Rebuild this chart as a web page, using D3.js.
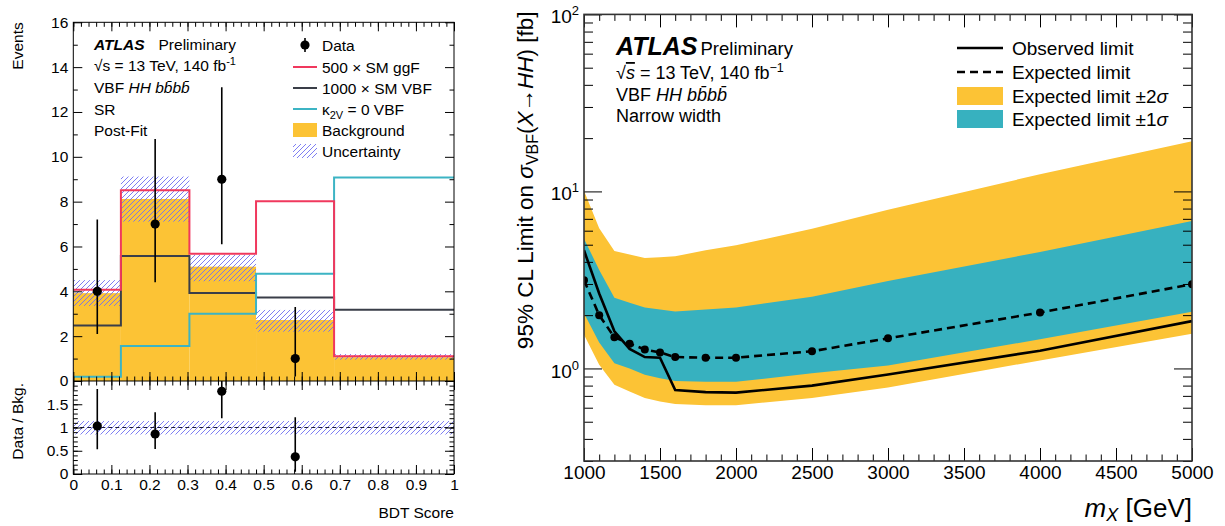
<!DOCTYPE html>
<html>
<head>
<meta charset="utf-8">
<script src="https://cdn.jsdelivr.net/npm/d3@7"></script>
<style>
  body { margin: 0; background: #fff; }
  svg { display: block; font-family: "Liberation Sans", Arial, Helvetica, sans-serif; }
</style>
</head>
<body>
<div id="chart"></div>
<script>
// ---------- left panel: BDT score distribution ----------
var binEdges = [0, 0.125, 0.305, 0.48, 0.685, 1];
var bkg = [3.92, 8.12, 5.1, 2.72, 1.06];
var bkgUncLo = [3.35, 7.11, 4.45, 2.2, 0.95];
var bkgUncHi = [4.5, 9.12, 5.62, 3.17, 1.2];
var ggF500 = [4.07, 8.51, 5.68, 8.02, 1.1];
var vbf1000 = [2.48, 5.58, 3.93, 3.72, 3.18];
var k2v0 = [0.19, 1.56, 3.0, 4.78, 9.08];
var dataX = [0.063, 0.215, 0.39, 0.583];
var dataY = [4, 7, 9, 1];
var dataLo = [2.1, 4.4, 6.1, 0.2];
var dataHi = [7.2, 10.8, 13.1, 3.3];
var ratioY = [1.03, 0.86, 1.78, 0.37];
var ratioLo = [0.53, 0.54, 1.2, 0.05];
var ratioHi = [1.83, 1.33, 2.5, 1.22];
var ratioUncLo = [0.85, 0.85, 0.85, 0.85, 0.85];
var ratioUncHi = [1.14, 1.14, 1.14, 1.14, 1.14];

// ---------- right panel: limits vs m_X ----------
var masses = [1000, 1100, 1200, 1300, 1400, 1500, 1600, 1800, 2000, 2500, 3000, 4000, 5000];
var observed = [4.65, 2.65, 1.62, 1.29, 1.16, 1.15, 0.755, 0.735, 0.73, 0.8, 0.925, 1.26, 1.85];
var expected = [3.15, 2.0, 1.5, 1.38, 1.28, 1.23, 1.16, 1.15, 1.15, 1.25, 1.48, 2.07, 2.99];
var band1Lo = [2.05, 1.4, 1.07, 1.0, 0.92, 0.88, 0.85, 0.84, 0.84, 0.94, 1.04, 1.46, 2.09];
var band1Hi = [5.41, 3.6, 2.51, 2.35, 2.21, 2.15, 2.1, 2.15, 2.21, 2.54, 3.12, 4.55, 6.8];
var band2Lo = [1.55, 1.05, 0.81, 0.74, 0.68, 0.65, 0.63, 0.62, 0.62, 0.68, 0.78, 1.11, 1.57];
var band2Hi = [10.1, 6.2, 4.61, 4.4, 4.21, 4.25, 4.3, 4.65, 4.96, 6.15, 7.88, 12.5, 19.2];

var yellow = "#fcc335", cyan = "#37b1bf";

var svg = d3.select("#chart").append("svg").attr("width", 1225).attr("height", 526);

var defs = svg.append("defs");
defs.append("pattern").attr("id", "hatch")
  .attr("patternUnits", "userSpaceOnUse").attr("width", 5).attr("height", 5)
  .append("path").attr("d", "M-1,1 L1,-1 M0,5 L5,0 M4,6 L6,4")
  .attr("stroke", "#6f6ff2").attr("stroke-width", 0.9);

// draw ticks with d3 axes, pointing inwards, no domain line
function ticks(g, axis) {
  g.call(axis).call(function (s) { s.select(".domain").remove(); });
  g.attr("font-size", null).attr("font-family", null);
  g.selectAll(".tick line").attr("stroke", "#000");
  g.selectAll(".tick text").attr("fill", "#000");
  return g;
}
function range(a, b, step) {
  var out = [];
  for (var v = a; v <= b + 1e-9; v += step) out.push(+v.toFixed(4));
  return out;
}

// ================= LEFT PANEL =================
var L = { x0: 73.3, x1: 454, top: 22.3, mid: 381, bot: 474 };
var x = d3.scaleLinear().domain([0, 1]).range([L.x0, L.x1]);
var y = d3.scaleLinear().domain([0, 16]).range([L.mid, L.top]);
var yr = d3.scaleLinear().domain([0, 2]).range([L.bot, L.mid]);

defs.append("clipPath").attr("id", "clipMain").append("rect")
  .attr("x", L.x0).attr("y", L.top).attr("width", L.x1 - L.x0).attr("height", L.mid - L.top);
defs.append("clipPath").attr("id", "clipRatio").append("rect")
  .attr("x", L.x0).attr("y", L.mid).attr("width", L.x1 - L.x0).attr("height", L.bot - L.mid);

var bins = bkg.map(function (b, i) { return { i: i, lo: binEdges[i], hi: binEdges[i + 1] }; });

var main = svg.append("g").attr("clip-path", "url(#clipMain)");

// background stack
main.selectAll("rect.bkg").data(bins).enter().append("rect")
  .attr("x", function (d) { return x(d.lo); })
  .attr("width", function (d) { return x(d.hi) - x(d.lo); })
  .attr("y", function (d) { return y(bkg[d.i]); })
  .attr("height", function (d) { return y(0) - y(bkg[d.i]); })
  .attr("fill", yellow);

// uncertainty hatch
main.selectAll("rect.unc").data(bins).enter().append("rect")
  .attr("x", function (d) { return x(d.lo); })
  .attr("width", function (d) { return x(d.hi) - x(d.lo); })
  .attr("y", function (d) { return y(bkgUncHi[d.i]); })
  .attr("height", function (d) { return y(bkgUncLo[d.i]) - y(bkgUncHi[d.i]); })
  .attr("fill", "url(#hatch)");

// signal step lines
var step = d3.line().x(function (d) { return x(d[0]); }).y(function (d) { return y(d[1]); })
  .curve(d3.curveStepAfter);
function stepPts(vals) {
  var pts = binEdges.slice(0, -1).map(function (e, i) { return [e, vals[i]]; });
  pts.push([1, vals[vals.length - 1]]);
  return pts;
}
[[vbf1000, "#3a3e48"], [k2v0, "#3cb4c4"], [ggF500, "#f0385d"]].forEach(function (s) {
  main.append("path").attr("d", step(stepPts(s[0])))
    .attr("fill", "none").attr("stroke", s[1]).attr("stroke-width", 2);
});

// data points
var pts = main.selectAll("g.data").data(dataX).enter().append("g");
pts.append("line")
  .attr("x1", function (d) { return x(d); }).attr("x2", function (d) { return x(d); })
  .attr("y1", function (d, i) { return y(dataLo[i]); })
  .attr("y2", function (d, i) { return y(dataHi[i]); })
  .attr("stroke", "#000").attr("stroke-width", 1.6);
pts.append("circle")
  .attr("cx", function (d) { return x(d); })
  .attr("cy", function (d, i) { return y(dataY[i]); })
  .attr("r", 4.6).attr("fill", "#000");

// ratio panel
var ratio = svg.append("g").attr("clip-path", "url(#clipRatio)");
ratio.selectAll("rect.runc").data(bins).enter().append("rect")
  .attr("x", function (d) { return x(d.lo); })
  .attr("width", function (d) { return x(d.hi) - x(d.lo); })
  .attr("y", function (d) { return yr(ratioUncHi[d.i]); })
  .attr("height", function (d) { return yr(ratioUncLo[d.i]) - yr(ratioUncHi[d.i]); })
  .attr("fill", "url(#hatch)");
ratio.append("line")
  .attr("x1", x(0)).attr("x2", x(1)).attr("y1", yr(1)).attr("y2", yr(1))
  .attr("stroke", "#1a1a3a").attr("stroke-width", 1.2).attr("stroke-dasharray", "4,3");
var rpts = ratio.selectAll("g.rdata").data(dataX).enter().append("g");
rpts.append("line")
  .attr("x1", function (d) { return x(d); }).attr("x2", function (d) { return x(d); })
  .attr("y1", function (d, i) { return yr(ratioLo[i]); })
  .attr("y2", function (d, i) { return yr(ratioHi[i]); })
  .attr("stroke", "#000").attr("stroke-width", 1.6);
rpts.append("circle")
  .attr("cx", function (d) { return x(d); })
  .attr("cy", function (d, i) { return yr(ratioY[i]); })
  .attr("r", 4.6).attr("fill", "#000");

// left axes
var lfs = "15.5px";
var ax = svg.append("g").attr("font-size", lfs);
ticks(ax.append("g").attr("transform", "translate(" + L.x0 + ",0)"),
  d3.axisLeft(y).tickValues(range(0, 16, 2)).tickSize(-9).tickPadding(5));
ticks(ax.append("g").attr("transform", "translate(" + L.x0 + ",0)"),
  d3.axisLeft(y).tickValues(range(1, 15, 2)).tickSize(-4.5).tickFormat(""));
ticks(ax.append("g").attr("transform", "translate(" + L.x1 + ",0)"),
  d3.axisRight(y).tickValues(range(0, 16, 2)).tickSize(-9).tickFormat(""));
ticks(ax.append("g").attr("transform", "translate(" + L.x1 + ",0)"),
  d3.axisRight(y).tickValues(range(1, 15, 2)).tickSize(-4.5).tickFormat(""));
[[L.top, d3.axisTop], [L.mid, d3.axisBottom], [L.bot, d3.axisBottom]].forEach(function (a, k) {
  ticks(ax.append("g").attr("transform", "translate(0," + a[0] + ")"),
    a[1](x).tickValues(range(0, 1, 0.1)).tickSize(-9).tickPadding(5)
      .tickFormat(k === 2 ? d3.format("") : ""));
  ticks(ax.append("g").attr("transform", "translate(0," + a[0] + ")"),
    a[1](x).tickValues(range(0, 1, 0.02)).tickSize(-4.5).tickFormat(""));
});
// ratio panel top edge ticks
ticks(ax.append("g").attr("transform", "translate(0," + L.mid + ")"),
  d3.axisTop(x).tickValues(range(0, 1, 0.1)).tickSize(-9).tickFormat(""));
ticks(ax.append("g").attr("transform", "translate(0," + L.mid + ")"),
  d3.axisTop(x).tickValues(range(0, 1, 0.02)).tickSize(-4.5).tickFormat(""));
ticks(ax.append("g").attr("transform", "translate(" + L.x0 + ",0)"),
  d3.axisLeft(yr).tickValues([0, 0.5, 1, 1.5]).tickSize(-9).tickPadding(5).tickFormat(d3.format("")));
ticks(ax.append("g").attr("transform", "translate(" + L.x0 + ",0)"),
  d3.axisLeft(yr).tickValues(range(0, 2, 0.1)).tickSize(-4.5).tickFormat(""));
ticks(ax.append("g").attr("transform", "translate(" + L.x1 + ",0)"),
  d3.axisRight(yr).tickValues([0, 0.5, 1, 1.5]).tickSize(-9).tickFormat(""));
ticks(ax.append("g").attr("transform", "translate(" + L.x1 + ",0)"),
  d3.axisRight(yr).tickValues(range(0, 2, 0.1)).tickSize(-4.5).tickFormat(""));

svg.append("rect").attr("x", L.x0).attr("y", L.top).attr("width", L.x1 - L.x0)
  .attr("height", L.bot - L.top).attr("fill", "none").attr("stroke", "#000").attr("stroke-width", 1);
svg.append("line").attr("x1", L.x0).attr("x2", L.x1).attr("y1", L.mid).attr("y2", L.mid)
  .attr("stroke", "#000");

svg.append("text").attr("transform", "translate(23," + L.top + ") rotate(-90)")
  .attr("text-anchor", "end").attr("font-size", lfs).text("Events");
svg.append("text").attr("transform", "translate(23," + (L.mid + 2) + ") rotate(-90)")
  .attr("text-anchor", "end").attr("font-size", lfs).text("Data / Bkg.");
svg.append("text").attr("x", L.x1).attr("y", 518).attr("text-anchor", "end")
  .attr("font-size", lfs).text("BDT Score");

// left labels
var lt = svg.append("g").attr("font-size", "15.5px");
var t0 = lt.append("text").attr("x", 94).attr("y", 50);
t0.append("tspan").attr("font-weight", "bold").attr("font-style", "italic").text("ATLAS");
t0.append("tspan").attr("dx", 14).text("Preliminary");
var t1 = lt.append("text").attr("x", 94).attr("y", 71);
t1.append("tspan").text("\u221As = 13 TeV, 140 fb");
t1.append("tspan").attr("font-size", "11px").attr("dy", -6).text("-1");
var t2 = lt.append("text").attr("x", 94).attr("y", 93);
t2.append("tspan").text("VBF ");
t2.append("tspan").attr("font-style", "italic").text("HH bb\u0304bb\u0304");
lt.append("text").attr("x", 94).attr("y", 115).text("SR");
lt.append("text").attr("x", 94).attr("y", 136).text("Post-Fit");

// left legend
var legY = [45, 67, 88, 109, 130, 151];
var legText = ["Data", "500 \u00d7 SM ggF", "1000 \u00d7 SM VBF", "", "Background", "Uncertainty"];
legText.forEach(function (s, i) {
  if (s) lt.append("text").attr("x", 322).attr("y", legY[i] + 5.5).text(s);
});
var k2 = lt.append("text").attr("x", 322).attr("y", legY[3] + 5.5);
k2.append("tspan").text("\u03ba");
k2.append("tspan").attr("font-size", "11px").attr("dy", 4).text("2V");
k2.append("tspan").attr("dy", -4).text(" = 0 VBF");
lt.append("line").attr("x1", 305).attr("x2", 305).attr("y1", legY[0] - 7).attr("y2", legY[0] + 7)
  .attr("stroke", "#000").attr("stroke-width", 1.6);
lt.append("circle").attr("cx", 305).attr("cy", legY[0]).attr("r", 4.6);
[["#f0385d", 1], ["#3a3e48", 2], ["#3cb4c4", 3]].forEach(function (s) {
  lt.append("line").attr("x1", 293).attr("x2", 317).attr("y1", legY[s[1]]).attr("y2", legY[s[1]])
    .attr("stroke", s[0]).attr("stroke-width", 2);
});
lt.append("rect").attr("x", 293).attr("y", legY[4] - 7).attr("width", 24).attr("height", 14).attr("fill", yellow);
lt.append("rect").attr("x", 293).attr("y", legY[5] - 7).attr("width", 24).attr("height", 14).attr("fill", "url(#hatch)");

// ================= RIGHT PANEL =================
var R = { x0: 584, x1: 1192, top: 14.4, bot: 461 };
var xm = d3.scaleLinear().domain([1000, 5000]).range([R.x0, R.x1]);
var ym = d3.scaleLog().domain([0.3, 100]).range([R.bot, R.top]);

defs.append("clipPath").attr("id", "clipR").append("rect")
  .attr("x", R.x0).attr("y", R.top).attr("width", R.x1 - R.x0).attr("height", R.bot - R.top);
var rp = svg.append("g").attr("clip-path", "url(#clipR)");

function band(lo, hi) {
  return d3.area().x(function (d, i) { return xm(masses[i]); })
    .y0(function (d, i) { return ym(lo[i]); })
    .y1(function (d, i) { return ym(hi[i]); })(masses);
}
rp.append("path").attr("d", band(band2Lo, band2Hi)).attr("fill", yellow);
rp.append("path").attr("d", band(band1Lo, band1Hi)).attr("fill", cyan);

var lim = d3.line().x(function (d, i) { return xm(masses[i]); });
rp.append("path").attr("d", lim.y(function (d, i) { return ym(expected[i]); })(masses))
  .attr("fill", "none").attr("stroke", "#000").attr("stroke-width", 2.6).attr("stroke-dasharray", "8,5");
rp.selectAll("circle.exp").data(masses).enter().append("circle")
  .attr("cx", function (d) { return xm(d); })
  .attr("cy", function (d, i) { return ym(expected[i]); })
  .attr("r", 4).attr("fill", "#000");
rp.append("path").attr("d", lim.y(function (d, i) { return ym(observed[i]); })(masses))
  .attr("fill", "none").attr("stroke", "#000").attr("stroke-width", 2.6);

// right axes
var rfs = "19px";
var ar = svg.append("g").attr("font-size", rfs);
var decades = [1, 10, 100];
var minors = [];
[0.1, 1, 10].forEach(function (d) {
  for (var k = 2; k <= 9; k++) { var v = +(d * k).toFixed(3); if (v >= 0.3 && v < 100) minors.push(v); }
});
[[R.x0, d3.axisLeft], [R.x1, d3.axisRight]].forEach(function (a, k) {
  var g = ticks(ar.append("g").attr("transform", "translate(" + a[0] + ",0)"),
    a[1](ym).tickValues(decades).tickSize(-18).tickPadding(5).tickFormat(""));
  if (k === 0) {
    g.selectAll(".tick text").each(function (d) {
      var t = d3.select(this);
      t.append("tspan").text("10");
      t.append("tspan").attr("font-size", "13px").attr("dy", -8).text(Math.round(Math.log10(d)));
    }).attr("dy", "0.45em");
  }
  ticks(ar.append("g").attr("transform", "translate(" + a[0] + ",0)"),
    a[1](ym).tickValues(minors).tickSize(-9).tickFormat(""));
});
[[R.bot, d3.axisBottom], [R.top, d3.axisTop]].forEach(function (a, k) {
  ticks(ar.append("g").attr("transform", "translate(0," + a[0] + ")"),
    a[1](xm).tickValues(range(1000, 5000, 500)).tickSize(-13).tickPadding(5)
      .tickFormat(k === 0 ? d3.format("") : ""));
  ticks(ar.append("g").attr("transform", "translate(0," + a[0] + ")"),
    a[1](xm).tickValues(range(1000, 5000, 100)).tickSize(-6.5).tickFormat(""));
});

svg.append("rect").attr("x", R.x0).attr("y", R.top).attr("width", R.x1 - R.x0)
  .attr("height", R.bot - R.top).attr("fill", "none").attr("stroke", "#333").attr("stroke-width", 1.6);

// y title
var yt = svg.append("text").attr("transform", "translate(533," + (R.top - 3) + ") rotate(-90)")
  .attr("text-anchor", "end").attr("font-size", "22.5px");
yt.append("tspan").text("95% CL Limit on ");
yt.append("tspan").attr("font-style", "italic").text("\u03c3");
yt.append("tspan").attr("font-size", "16px").attr("dy", 5).text("VBF");
yt.append("tspan").attr("dy", -5).text("(");
yt.append("tspan").attr("font-style", "italic").text("X");
yt.append("tspan").text("\u2192");
yt.append("tspan").attr("font-style", "italic").text("HH");
yt.append("tspan").text(") [fb]");

var xt = svg.append("text").attr("x", R.x1).attr("y", 517).attr("text-anchor", "end").attr("font-size", "26px");
xt.append("tspan").attr("font-style", "italic").text("m");
xt.append("tspan").attr("font-style", "italic").attr("font-size", "18px").attr("dy", 4).text("X");
xt.append("tspan").attr("dy", -4).text(" [GeV]");

// right labels
var rt = svg.append("g").attr("font-size", "18px");
var r0 = rt.append("text").attr("x", 616).attr("y", 55);
r0.append("tspan").attr("font-weight", "bold").attr("font-style", "italic").attr("font-size", "25px").text("ATLAS");
r0.append("tspan").attr("dx", 3).attr("font-size", "18.5px").text("Preliminary");
var r1 = rt.append("text").attr("x", 616).attr("y", 79);
r1.append("tspan").text("\u221A");
r1.append("tspan").attr("font-style", "italic").attr("text-decoration", "overline").text("s");
r1.append("tspan").text(" = 13 TeV, 140 fb");
r1.append("tspan").attr("font-size", "12.5px").attr("dy", -7).text("\u22121");
var r2 = rt.append("text").attr("x", 616).attr("y", 101);
r2.append("tspan").text("VBF ");
r2.append("tspan").attr("font-style", "italic").text("HH bb\u0304bb\u0304");
rt.append("text").attr("x", 616).attr("y", 122).text("Narrow width");

var rlegY = [48, 72, 96, 119];
var rlegText = ["Observed limit", "Expected limit", "Expected limit \u00b12", "Expected limit \u00b11"];
rlegText.forEach(function (s, i) {
  var t = rt.append("text").attr("x", 1012).attr("y", rlegY[i] + 6.5).attr("font-size", "19px").text(s);
  if (i >= 2) t.append("tspan").attr("font-style", "italic").text("\u03c3");
});
rt.append("line").attr("x1", 957).attr("x2", 1003).attr("y1", rlegY[0]).attr("y2", rlegY[0])
  .attr("stroke", "#000").attr("stroke-width", 2.6);
rt.append("line").attr("x1", 957).attr("x2", 1003).attr("y1", rlegY[1]).attr("y2", rlegY[1])
  .attr("stroke", "#000").attr("stroke-width", 2.6).attr("stroke-dasharray", "8,5");
rt.append("rect").attr("x", 957).attr("y", rlegY[2] - 9).attr("width", 46).attr("height", 18).attr("fill", yellow);
rt.append("rect").attr("x", 957).attr("y", rlegY[3] - 9).attr("width", 46).attr("height", 18).attr("fill", cyan);
</script>
</body>
</html>
